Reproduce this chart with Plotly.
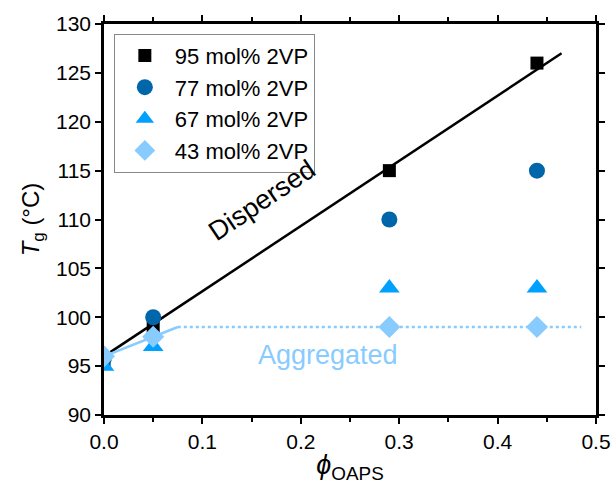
import plotly.graph_objects as go

# Glass transition temperature vs. OAPS volume fraction
series_names = ["95 mol% 2VP", "77 mol% 2VP", "67 mol% 2VP", "43 mol% 2VP"]
phi_95 = [0.0, 0.05, 0.29, 0.44]
tg_95 = [95.5, 99, 115, 126]
phi_77 = [0.0, 0.05, 0.29, 0.44]
tg_77 = [95.8, 100, 110, 115]
phi_67 = [0.0, 0.05, 0.29, 0.44]
tg_67 = [95, 97, 103, 103]
phi_43 = [0.0, 0.05, 0.29, 0.44]
tg_43 = [96, 98, 99, 99]

# Guide lines
dispersed_x = [0.0, 0.465]
dispersed_y = [96, 127]
agg_solid_x = [0.0, 0.05, 0.075]
agg_solid_y = [96, 98, 99]
agg_dot_x = [0.075, 0.485]
agg_dot_y = [99, 99]

BLACK = "#000000"
DARK_BLUE = "#0066AA"
MID_BLUE = "#00A0FF"
LIGHT_BLUE = "#88CCFF"
FONT = "Liberation Sans, Arial, sans-serif"

fig = go.Figure()

fig.add_trace(go.Scatter(x=dispersed_x, y=dispersed_y, mode="lines",
                         line=dict(color=BLACK, width=2.5), showlegend=False))
fig.add_trace(go.Scatter(x=agg_solid_x, y=agg_solid_y, mode="lines",
                         line=dict(color=LIGHT_BLUE, width=2.5), showlegend=False))
fig.add_trace(go.Scatter(x=agg_dot_x, y=agg_dot_y, mode="lines",
                         line=dict(color=LIGHT_BLUE, width=2.5, dash="dot"), showlegend=False))

fig.add_trace(go.Scatter(x=phi_95, y=tg_95, mode="markers", name=series_names[0],
                         marker=dict(symbol="square", size=13, color=BLACK)))
fig.add_trace(go.Scatter(x=phi_77, y=tg_77, mode="markers", name=series_names[1],
                         marker=dict(symbol="circle", size=16, color=DARK_BLUE)))
fig.add_trace(go.Scatter(x=phi_67, y=tg_67, mode="markers", name=series_names[2],
                         marker=dict(symbol="triangle-up", size=18, color=MID_BLUE)))
fig.add_trace(go.Scatter(x=phi_43, y=tg_43, mode="markers", name=series_names[3],
                         marker=dict(symbol="diamond", size=17, color=LIGHT_BLUE)))

fig.add_annotation(x=0.161, y=112.0, text="Dispersed", showarrow=False,
                   textangle=-34, font=dict(family=FONT, size=27, color=BLACK))
fig.add_annotation(x=0.228, y=96.1, text="Aggregated", showarrow=False,
                   font=dict(family=FONT, size=27, color=LIGHT_BLUE))

axis_common = dict(
    showline=True, linecolor=BLACK, linewidth=2.5, mirror="ticks",
    ticks="outside", ticklen=6, tickwidth=2, tickcolor=BLACK,
    showgrid=False, zeroline=False, automargin=False,
    tickfont=dict(family=FONT, size=21, color=BLACK),
)

fig.update_xaxes(range=[0, 0.5], dtick=0.1, tickformat=".1f",
                 minor=dict(dtick=0.05, ticks="outside", ticklen=4, tickwidth=2, tickcolor=BLACK),
                 title=dict(text="<i>ϕ</i><sub>OAPS</sub>", font=dict(family=FONT, size=27, color=BLACK),
                            standoff=4),
                 **axis_common)
fig.update_yaxes(range=[90, 130], dtick=5,
                 title=dict(text="<i>T</i><sub>g</sub> (°C)", font=dict(family=FONT, size=24, color=BLACK),
                            standoff=10),
                 **axis_common)

fig.update_layout(
    width=611, height=495,
    margin=dict(l=104, r=15, t=24, b=80),
    paper_bgcolor="white", plot_bgcolor="white",
    font=dict(family=FONT, color=BLACK),
    legend=dict(x=0.02, y=0.975, xanchor="left", yanchor="top",
                bgcolor="white", bordercolor="#888888", borderwidth=1,
                font=dict(family=FONT, size=22, color=BLACK),
                itemsizing="trace", itemwidth=50, tracegroupgap=0),
)

fig.write_html("out.html")
